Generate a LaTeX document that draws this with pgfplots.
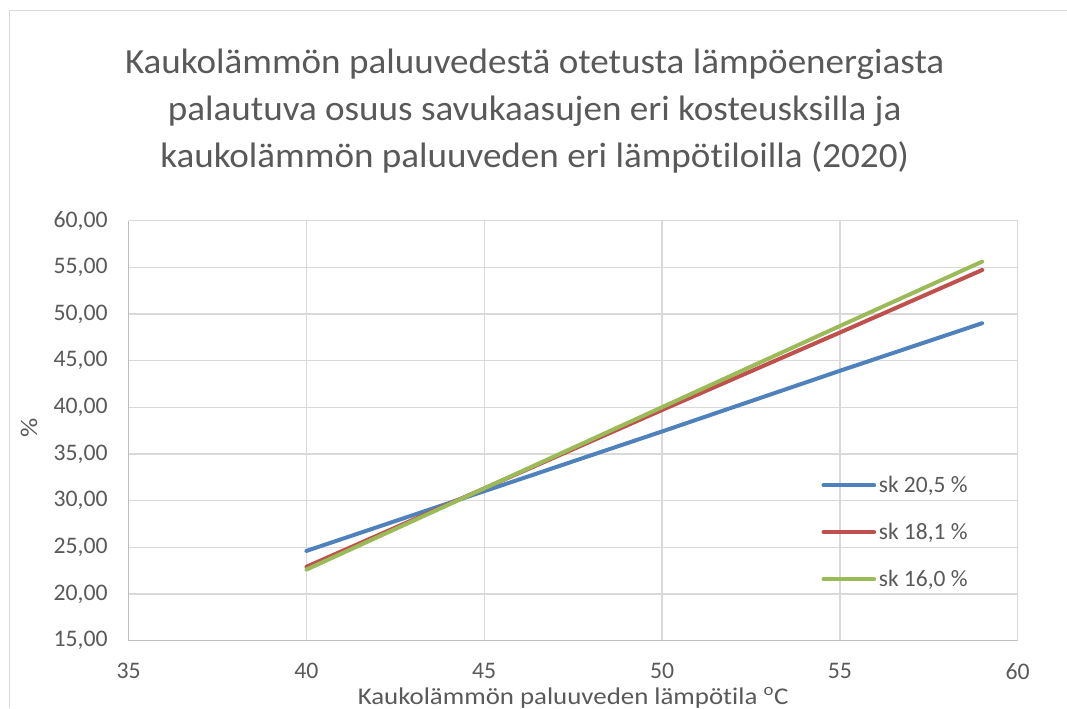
\documentclass[border=0pt]{standalone}
\usepackage{fontspec}
\setmainfont{Carlito}[Ligatures={NoCommon}]
\newfontfamily\titlefont{Carlito}[FakeStretch=1.05, Ligatures={NoCommon}]
\newfontfamily\labelfont{Carlito}[FakeStretch=1.12, Ligatures={NoCommon}]
\usepackage{pgfplots}
\pgfplotsset{compat=1.18}
\definecolor{txtgray}{RGB}{89,89,89}
\definecolor{gridgray}{RGB}{217,217,217}
\definecolor{axgray}{RGB}{191,191,191}
\definecolor{skblue}{RGB}{79,129,189}
\definecolor{skred}{RGB}{192,80,77}
\definecolor{skgreen}{RGB}{155,187,89}

\begin{document}
\begin{tikzpicture}
\useasboundingbox (0,0) rectangle (800.25pt,531pt);
\draw[gridgray, line width=1pt] (7.1pt,0) -- (7.1pt,523.1pt) -- (800.25pt,523.1pt);
\begin{scope}[font=\titlefont\fontsize{26.5}{32}\selectfont, text=txtgray]
\node[anchor=base] at (401pt,476pt) {Kaukolämmön paluuvedestä otetusta lämpöenergiasta};
\node[anchor=base] at (401pt,440.6pt) {palautuva osuus savukaasujen eri kosteusksilla ja};
\node[anchor=base] at (401pt,405.4pt) {kaukolämmön paluuveden eri lämpötiloilla (2020)};
\end{scope}
\begin{axis}[
    at={(96.4pt,50.6pt)}, anchor=south west,
    scale only axis, width=666.9pt, height=315pt,
    xmin=35, xmax=60, ymin=15, ymax=60,
    xtick={35,40,...,60}, ytick={15,20,...,60},
    grid=major, major grid style={gridgray, line width=1pt},
    axis x line=bottom, axis y line=left,
    axis line style={axgray, line width=1pt, -},
    tick style={draw=none},
    ticklabel style={font=\fontsize{17.8}{21}\selectfont, text=txtgray},
    /pgf/number format/assume math mode=true,
    yticklabel style={/pgf/number format/fixed, /pgf/number format/fixed zerofill,
        /pgf/number format/precision=2, /pgf/number format/use comma, xshift=-10pt},
    xticklabel style={yshift=-11.5pt},
    xlabel={Kaukolämmön paluuveden lämpötila \textsuperscript{o}C},
    ylabel={\%},
    label style={font=\labelfont\fontsize{18}{21}\selectfont, text=txtgray},
    xlabel style={at={(axis description cs:0.5,0)}, anchor=base, yshift=-47.6pt},
    ylabel style={at={(axis description cs:-0.112,0.506)}, anchor=center},
    legend style={draw=none, fill=none, at={(axis description cs:0.779,0.258)}, anchor=west,
        font=\fontsize{17.6}{21}\selectfont, text=txtgray, row sep=17.5pt, inner sep=0pt},
    legend cell align=left,
    legend image code/.code={\draw[#1, line cap=round] (0pt,0pt) -- (38pt,0pt);},
]
\addplot[skblue, line width=3pt, line cap=round] table {
40 24.6
45 31.0
50 37.4
55 43.9
59 49.0
};
\addlegendentry{sk 20,5 \%}
\addplot[skred, line width=3pt, line cap=round] table {
40 22.9
45 31.3
50 39.7
55 48.0
59 54.7
};
\addlegendentry{sk 18,1 \%}
\addplot[skgreen, line width=3pt, line cap=round] table {
40 22.6
45 31.3
50 40.0
55 48.7
59 55.6
};
\addlegendentry{sk 16,0 \%}
\end{axis}
\end{tikzpicture}
\end{document}
